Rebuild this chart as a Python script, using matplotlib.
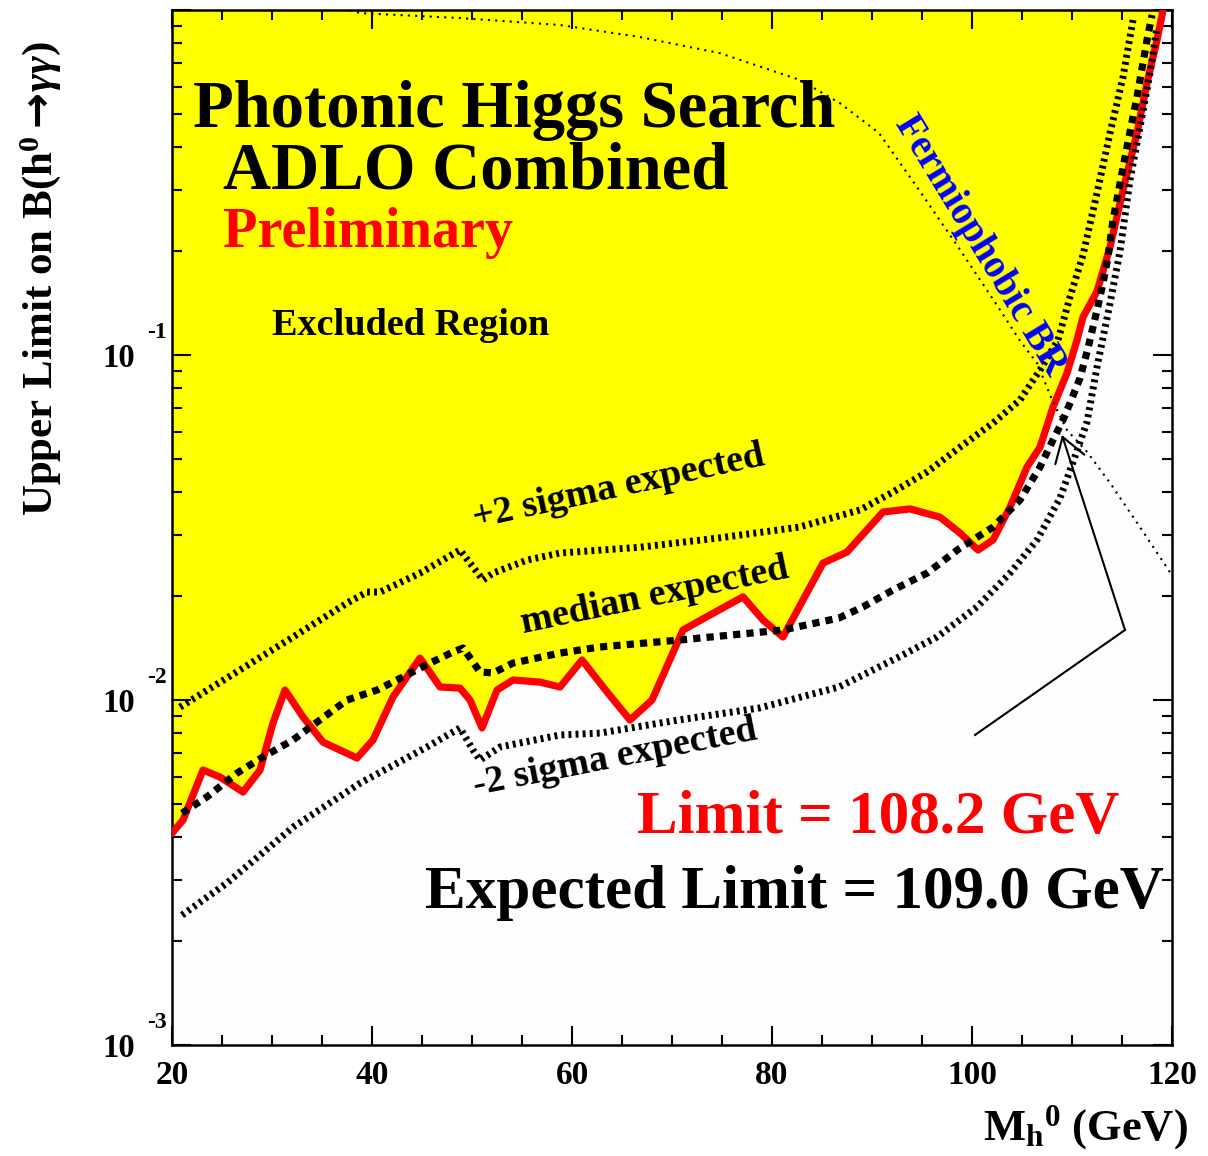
import matplotlib
matplotlib.use("Agg")
import matplotlib.pyplot as plt
import matplotlib.ticker as mticker

# ── limits on B(h0 -> gamma gamma) vs Higgs mass (GeV) ──
obs_mass = [20.0, 21.1, 23.1, 24.8, 27.1, 28.8, 30.1, 31.3, 33.1, 35.1, 36.8, 38.5,
            40.1, 42.1, 44.8, 46.8, 48.8, 49.8, 51.0, 52.5, 54.1, 56.8, 58.8, 61.0,
            63.6, 65.8, 68.0, 71.1, 74.7, 77.1, 79.1, 81.1, 83.1, 85.1, 87.5, 91.1,
            93.8, 96.8, 98.8, 100.6, 102.1, 103.8, 105.5, 106.8, 108.1, 109.5, 110.5,
            111.1, 112.5, 113.8, 115.1, 116.5, 117.5, 118.5, 119.1]
obs_limit = [0.00411, 0.00449, 0.00627, 0.00598, 0.00541, 0.00627, 0.00858, 0.01069,
             0.00893, 0.00755, 0.00716, 0.00679, 0.00766, 0.01021, 0.01323, 0.01091,
             0.01083, 0.01000, 0.00830, 0.01069, 0.01143, 0.01127, 0.01091, 0.01306,
             0.01047, 0.00875, 0.01000, 0.01596, 0.01824, 0.01991, 0.01706, 0.01523,
             0.01950, 0.02494, 0.02685, 0.03508, 0.03581, 0.03390, 0.03048, 0.02722,
             0.02911, 0.03624, 0.04735, 0.05408, 0.07063, 0.08872, 0.1105, 0.1289,
             0.1530, 0.2056, 0.3007, 0.4399, 0.6141, 0.8187, 1.0]

med_mass = [21.0, 23.5, 26.5, 29.1, 32.1, 34.5, 37.5, 40.5, 43.1, 45.8, 48.1, 49.1,
            50.8, 52.1, 54.1, 58.8, 62.8, 70.8, 81.1, 86.7, 89.1, 92.1, 95.5, 98.8,
            102.1, 104.8, 106.8, 108.1, 109.1, 109.8, 110.8, 111.6, 112.5, 113.1,
            113.6, 114.1, 115.5, 116.5, 117.5, 118.0]
med_limit = [0.00470, 0.00524, 0.00614, 0.00684, 0.00766, 0.00863, 0.01000, 0.01069,
             0.01167, 0.01280, 0.01378, 0.01415, 0.01206, 0.01198, 0.01280, 0.01368,
             0.01425, 0.01493, 0.01596, 0.01729, 0.01862, 0.02084, 0.02333, 0.02758,
             0.03170, 0.03802, 0.04735, 0.05672, 0.06482, 0.07257, 0.08575, 0.1047,
             0.1350, 0.1617, 0.1923, 0.2462, 0.4009, 0.5598, 0.8187, 0.9672]

up2_mass = [20.8, 25.5, 32.1, 37.5, 39.5, 40.8, 44.8, 48.8, 50.1, 51.1, 52.1, 55.5,
            58.8, 66.8, 74.7, 82.7, 88.8, 92.1, 95.5, 98.8, 102.1, 104.8, 106.8,
            108.6, 109.8, 111.1, 112.5, 113.8, 115.1, 116.1]
up2_limit = [0.00954, 0.01159, 0.01523, 0.01910, 0.02056, 0.02056, 0.02333, 0.02722,
             0.02430, 0.02228, 0.02333, 0.02545, 0.02667, 0.02773, 0.02951, 0.03170,
             0.03556, 0.04009, 0.04581, 0.05408, 0.06353, 0.07410, 0.0905, 0.1105,
             0.1473, 0.1950, 0.2948, 0.4399, 0.6397, 0.9355]

dn2_mass = [21.0, 25.5, 32.1, 38.8, 45.5, 48.8, 50.1, 50.8, 52.8, 58.8, 62.8, 70.6,
            78.7, 86.7, 92.7, 96.5, 100.5, 103.8, 106.5, 108.8, 110.1, 111.5, 112.5,
            113.8, 114.8, 115.8, 116.8, 117.8, 118.5]
dn2_limit = [0.00238, 0.00295, 0.00428, 0.00574, 0.00731, 0.00830, 0.00716, 0.00670,
             0.00731, 0.00792, 0.00802, 0.00875, 0.00948, 0.01091, 0.01333, 0.01523,
             0.01862, 0.02333, 0.02911, 0.03852, 0.04893, 0.06397, 0.09226, 0.141,
             0.200, 0.3217, 0.4581, 0.6564, 0.8926]

fermio_mass = [37.8, 38.8, 48.8, 58.8, 66.8, 74.8, 82.8, 86.8, 90.7, 94.7, 98.6,
               102.6, 104.8, 106.5, 108.1, 109.5, 111.5, 113.8, 116.8, 120.0]
fermio_br = [1.0, 0.980, 0.948, 0.905, 0.835, 0.750, 0.627, 0.537, 0.440, 0.301,
             0.206, 0.138, 0.110, 0.0948, 0.0731, 0.0606, 0.0524, 0.0426, 0.0317,
             0.0230]

obs_mass_limit = 108.2
exp_mass_limit = 109.0

# ── style ──
serif = ["Liberation Serif", "DejaVu Serif"]
plt.rcParams.update({
    "font.family": serif,
    "font.weight": "bold",
    "mathtext.fontset": "custom",
    "mathtext.rm": "Liberation Serif:bold",
    "mathtext.bf": "Liberation Serif:bold",
    "mathtext.it": "Liberation Serif:italic",
    "mathtext.sf": "DejaVu Sans",
    "axes.linewidth": 1.8,
})

fig = plt.figure(figsize=(12.08, 11.56), dpi=100)
ax = fig.add_axes([0.1424, 0.0960, 0.8278, 0.8953])
ax.set_facecolor("#fdfdfd")

ax.set_yscale("log")
ax.set_xlim(20, 120)
ax.set_ylim(1e-3, 1.0)

# excluded region above the observed limit
ax.fill_between(obs_mass, obs_limit, 1.0, color="#ffff00", linewidth=0, zorder=1)

ax.plot(obs_mass, obs_limit, color="#ff0000", linewidth=5.2, solid_joinstyle="round",
        solid_capstyle="round", zorder=3)
hatch = (0, (0.42, 0.6))
ax.plot(up2_mass, up2_limit, color="black", linewidth=5, linestyle=hatch, zorder=4)
ax.plot(dn2_mass, dn2_limit, color="black", linewidth=5, linestyle=hatch, zorder=4)
ax.plot(med_mass, med_limit, color="black", linewidth=5.2,
        linestyle=(0, (1.0, 0.85)), zorder=5)
ax.plot(fermio_mass, fermio_br, color="black", linewidth=1.5,
        linestyle=(0, (1, 2.5)), zorder=5)

# arrow to the expected limit
ax.plot([100.3, 115.3], [0.00792, 0.01596], color="black", linewidth=1.5, zorder=6)
ax.annotate("", xy=(exp_mass_limit, 0.0586), xytext=(115.3, 0.01596),
            arrowprops=dict(arrowstyle="->,head_length=0.85,head_width=0.55",
                            mutation_scale=20, color="black", linewidth=1.5,
                            shrinkA=0, shrinkB=0),
            zorder=6)

# ── axes & ticks ──
ax.xaxis.set_major_locator(mticker.MultipleLocator(20))
ax.xaxis.set_minor_locator(mticker.MultipleLocator(5))
ax.yaxis.set_major_locator(mticker.LogLocator(base=10))
ax.yaxis.set_minor_locator(mticker.LogLocator(base=10, subs=range(2, 10)))
ax.yaxis.set_major_formatter(mticker.NullFormatter())
ax.yaxis.set_minor_formatter(mticker.NullFormatter())
ax.tick_params(which="both", direction="in", top=True, right=True, width=1.5,
               labelsize=24, pad=11)
ax.tick_params(which="major", length=14)
ax.tick_params(which="minor", length=7.5)
for lab in ax.get_xticklabels():
    lab.set_fontweight("bold")

ytf = ax.get_yaxis_transform()
for k in (-1, -2, -3):
    ax.text(-0.037, 10.0 ** k, "10", transform=ytf, ha="right",
            va="center_baseline", fontsize=23.5, fontweight="bold")
    ax.annotate(f"{k}", xy=(-0.025, 10.0 ** k), xycoords=ytf, xytext=(0, 18),
                textcoords="offset points", ha="left", va="center_baseline",
                fontsize=17, fontweight="bold")

ax.text(-0.132, 0.741,
        r"Upper Limit on B(h$^{\mathbf{0}}\mathsf{\rightarrow}\!\gamma\gamma$)",
        transform=ax.transAxes, rotation=90, ha="center", va="center",
        fontsize=31, fontweight="bold")
ax.text(1.016, -0.0918, r"M$_{\mathbf{h}}$$^{\mathbf{0}}$ (GeV)",
        transform=ax.transAxes, ha="right", va="baseline",
        fontsize=32, fontweight="bold", clip_on=False)

# ── annotations ──
ax.text(0.021, 0.887, "Photonic Higgs Search", transform=ax.transAxes,
        fontsize=48, fontweight="bold", va="baseline", zorder=7)
ax.text(0.051, 0.828, "ADLO Combined", transform=ax.transAxes,
        fontsize=48, fontweight="bold", va="baseline", zorder=7)
ax.text(0.051, 0.771, "Preliminary", transform=ax.transAxes, color="#ff0000",
        fontsize=40.5, fontweight="bold", va="baseline", zorder=7)
ax.text(0.100, 0.686, "Excluded Region", transform=ax.transAxes,
        fontsize=27.5, fontweight="bold", va="baseline", zorder=7)

ax.text(0.303, 0.4995, "+2 sigma expected", transform=ax.transAxes, rotation=12.3,
        rotation_mode="anchor", ha="left", va="baseline",
        fontsize=27.5, fontweight="bold", zorder=7)
ax.text(0.351, 0.398, "median expected", transform=ax.transAxes, rotation=11.8,
        rotation_mode="anchor", ha="left", va="baseline",
        fontsize=27.5, fontweight="bold", zorder=7)
ax.text(0.303, 0.2415, "-2 sigma expected", transform=ax.transAxes, rotation=11.2,
        rotation_mode="anchor", ha="left", va="baseline",
        fontsize=27.5, fontweight="bold", zorder=7)
ax.text(0.808, 0.773, "Fermiophobic BR", transform=ax.transAxes, rotation=-58.7,
        rotation_mode="anchor", ha="center", va="center", color="#0000ff",
        fontsize=28, fontweight="bold", zorder=7)

ax.text(0.465, 0.205, f"Limit = {obs_mass_limit:.1f} GeV", transform=ax.transAxes,
        color="#ff0000", fontsize=44, fontweight="bold", va="baseline", zorder=7)
ax.text(0.253, 0.132, f"Expected Limit = {exp_mass_limit:.1f} GeV",
        transform=ax.transAxes, fontsize=44, fontweight="bold", va="baseline",
        zorder=7)

fig.savefig("out.png", dpi=100, facecolor="white")
plt.close(fig)
